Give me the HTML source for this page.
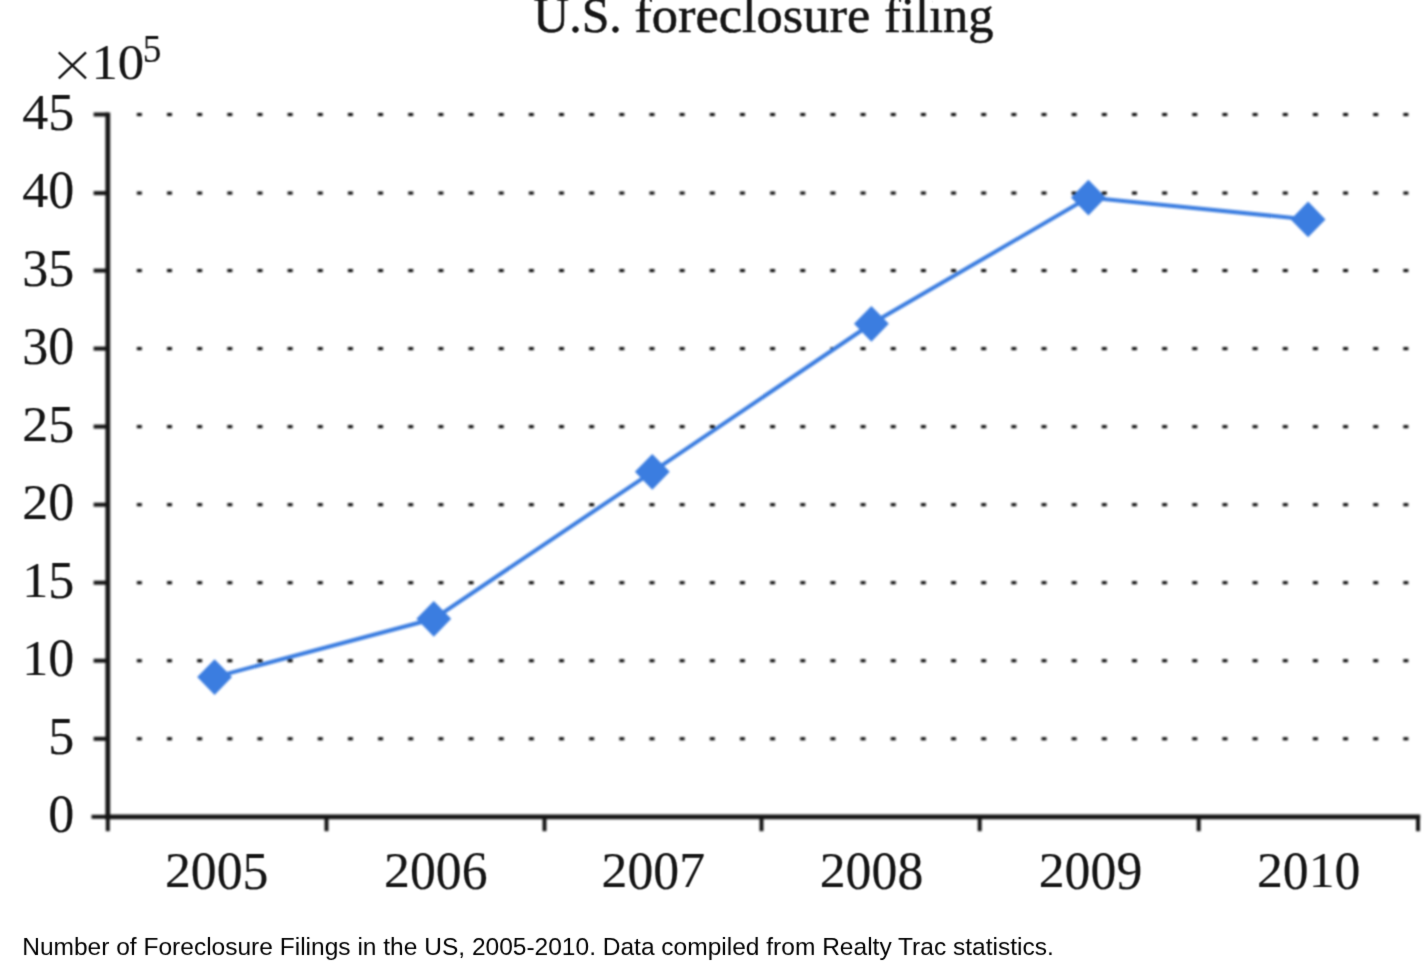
<!DOCTYPE html><html><head><meta charset="utf-8"><title>chart</title><style>
html,body{margin:0;padding:0;background:#fff;}body{width:1428px;height:966px;overflow:hidden;position:relative;font-family:"Liberation Serif",serif;}
svg{position:absolute;left:0;top:0;display:block}
.s{font-family:"Liberation Serif",serif;fill:#151515;stroke:#151515;stroke-width:0.15px}
.c{font-family:"Liberation Sans",sans-serif;fill:#000}
</style></head><body>
<svg width="1428" height="966" viewBox="0 0 1428 966">
<rect width="1428" height="966" fill="#fff"/>
<defs><filter id="t" filterUnits="userSpaceOnUse" x="0" y="0" width="1428" height="966" color-interpolation-filters="sRGB"><feConvolveMatrix order="3" kernelMatrix="0.04463 0.12200 0.04463 0.12200 0.33351 0.12200 0.04463 0.12200 0.04463" divisor="1" edgeMode="duplicate" preserveAlpha="false"/></filter></defs>
<defs><filter id="b" filterUnits="userSpaceOnUse" x="0" y="0" width="1428" height="966" color-interpolation-filters="sRGB"><feGaussianBlur stdDeviation="0.90"/></filter></defs><g filter="url(#b)">
<g fill="#000">
<rect x="136.85" y="737.27" width="5.0" height="3.0"/>
<rect x="167.00" y="737.27" width="5.0" height="3.0"/>
<rect x="197.16" y="737.27" width="5.0" height="3.0"/>
<rect x="227.31" y="737.27" width="5.0" height="3.0"/>
<rect x="257.47" y="737.27" width="5.0" height="3.0"/>
<rect x="287.62" y="737.27" width="5.0" height="3.0"/>
<rect x="317.78" y="737.27" width="5.0" height="3.0"/>
<rect x="347.94" y="737.27" width="5.0" height="3.0"/>
<rect x="378.09" y="737.27" width="5.0" height="3.0"/>
<rect x="408.25" y="737.27" width="5.0" height="3.0"/>
<rect x="438.40" y="737.27" width="5.0" height="3.0"/>
<rect x="468.56" y="737.27" width="5.0" height="3.0"/>
<rect x="498.71" y="737.27" width="5.0" height="3.0"/>
<rect x="528.87" y="737.27" width="5.0" height="3.0"/>
<rect x="559.02" y="737.27" width="5.0" height="3.0"/>
<rect x="589.18" y="737.27" width="5.0" height="3.0"/>
<rect x="619.33" y="737.27" width="5.0" height="3.0"/>
<rect x="649.49" y="737.27" width="5.0" height="3.0"/>
<rect x="679.64" y="737.27" width="5.0" height="3.0"/>
<rect x="709.80" y="737.27" width="5.0" height="3.0"/>
<rect x="739.95" y="737.27" width="5.0" height="3.0"/>
<rect x="770.11" y="737.27" width="5.0" height="3.0"/>
<rect x="800.26" y="737.27" width="5.0" height="3.0"/>
<rect x="830.42" y="737.27" width="5.0" height="3.0"/>
<rect x="860.57" y="737.27" width="5.0" height="3.0"/>
<rect x="890.73" y="737.27" width="5.0" height="3.0"/>
<rect x="920.88" y="737.27" width="5.0" height="3.0"/>
<rect x="951.04" y="737.27" width="5.0" height="3.0"/>
<rect x="981.19" y="737.27" width="5.0" height="3.0"/>
<rect x="1011.35" y="737.27" width="5.0" height="3.0"/>
<rect x="1041.50" y="737.27" width="5.0" height="3.0"/>
<rect x="1071.65" y="737.27" width="5.0" height="3.0"/>
<rect x="1101.81" y="737.27" width="5.0" height="3.0"/>
<rect x="1131.96" y="737.27" width="5.0" height="3.0"/>
<rect x="1162.12" y="737.27" width="5.0" height="3.0"/>
<rect x="1192.27" y="737.27" width="5.0" height="3.0"/>
<rect x="1222.43" y="737.27" width="5.0" height="3.0"/>
<rect x="1252.59" y="737.27" width="5.0" height="3.0"/>
<rect x="1282.74" y="737.27" width="5.0" height="3.0"/>
<rect x="1312.89" y="737.27" width="5.0" height="3.0"/>
<rect x="1343.05" y="737.27" width="5.0" height="3.0"/>
<rect x="1373.20" y="737.27" width="5.0" height="3.0"/>
<rect x="1403.36" y="737.27" width="5.0" height="3.0"/>
<rect x="136.85" y="659.24" width="5.0" height="3.0"/>
<rect x="167.00" y="659.24" width="5.0" height="3.0"/>
<rect x="197.16" y="659.24" width="5.0" height="3.0"/>
<rect x="227.31" y="659.24" width="5.0" height="3.0"/>
<rect x="257.47" y="659.24" width="5.0" height="3.0"/>
<rect x="287.62" y="659.24" width="5.0" height="3.0"/>
<rect x="317.78" y="659.24" width="5.0" height="3.0"/>
<rect x="347.94" y="659.24" width="5.0" height="3.0"/>
<rect x="378.09" y="659.24" width="5.0" height="3.0"/>
<rect x="408.25" y="659.24" width="5.0" height="3.0"/>
<rect x="438.40" y="659.24" width="5.0" height="3.0"/>
<rect x="468.56" y="659.24" width="5.0" height="3.0"/>
<rect x="498.71" y="659.24" width="5.0" height="3.0"/>
<rect x="528.87" y="659.24" width="5.0" height="3.0"/>
<rect x="559.02" y="659.24" width="5.0" height="3.0"/>
<rect x="589.18" y="659.24" width="5.0" height="3.0"/>
<rect x="619.33" y="659.24" width="5.0" height="3.0"/>
<rect x="649.49" y="659.24" width="5.0" height="3.0"/>
<rect x="679.64" y="659.24" width="5.0" height="3.0"/>
<rect x="709.80" y="659.24" width="5.0" height="3.0"/>
<rect x="739.95" y="659.24" width="5.0" height="3.0"/>
<rect x="770.11" y="659.24" width="5.0" height="3.0"/>
<rect x="800.26" y="659.24" width="5.0" height="3.0"/>
<rect x="830.42" y="659.24" width="5.0" height="3.0"/>
<rect x="860.57" y="659.24" width="5.0" height="3.0"/>
<rect x="890.73" y="659.24" width="5.0" height="3.0"/>
<rect x="920.88" y="659.24" width="5.0" height="3.0"/>
<rect x="951.04" y="659.24" width="5.0" height="3.0"/>
<rect x="981.19" y="659.24" width="5.0" height="3.0"/>
<rect x="1011.35" y="659.24" width="5.0" height="3.0"/>
<rect x="1041.50" y="659.24" width="5.0" height="3.0"/>
<rect x="1071.65" y="659.24" width="5.0" height="3.0"/>
<rect x="1101.81" y="659.24" width="5.0" height="3.0"/>
<rect x="1131.96" y="659.24" width="5.0" height="3.0"/>
<rect x="1162.12" y="659.24" width="5.0" height="3.0"/>
<rect x="1192.27" y="659.24" width="5.0" height="3.0"/>
<rect x="1222.43" y="659.24" width="5.0" height="3.0"/>
<rect x="1252.59" y="659.24" width="5.0" height="3.0"/>
<rect x="1282.74" y="659.24" width="5.0" height="3.0"/>
<rect x="1312.89" y="659.24" width="5.0" height="3.0"/>
<rect x="1343.05" y="659.24" width="5.0" height="3.0"/>
<rect x="1373.20" y="659.24" width="5.0" height="3.0"/>
<rect x="1403.36" y="659.24" width="5.0" height="3.0"/>
<rect x="136.85" y="581.21" width="5.0" height="3.0"/>
<rect x="167.00" y="581.21" width="5.0" height="3.0"/>
<rect x="197.16" y="581.21" width="5.0" height="3.0"/>
<rect x="227.31" y="581.21" width="5.0" height="3.0"/>
<rect x="257.47" y="581.21" width="5.0" height="3.0"/>
<rect x="287.62" y="581.21" width="5.0" height="3.0"/>
<rect x="317.78" y="581.21" width="5.0" height="3.0"/>
<rect x="347.94" y="581.21" width="5.0" height="3.0"/>
<rect x="378.09" y="581.21" width="5.0" height="3.0"/>
<rect x="408.25" y="581.21" width="5.0" height="3.0"/>
<rect x="438.40" y="581.21" width="5.0" height="3.0"/>
<rect x="468.56" y="581.21" width="5.0" height="3.0"/>
<rect x="498.71" y="581.21" width="5.0" height="3.0"/>
<rect x="528.87" y="581.21" width="5.0" height="3.0"/>
<rect x="559.02" y="581.21" width="5.0" height="3.0"/>
<rect x="589.18" y="581.21" width="5.0" height="3.0"/>
<rect x="619.33" y="581.21" width="5.0" height="3.0"/>
<rect x="649.49" y="581.21" width="5.0" height="3.0"/>
<rect x="679.64" y="581.21" width="5.0" height="3.0"/>
<rect x="709.80" y="581.21" width="5.0" height="3.0"/>
<rect x="739.95" y="581.21" width="5.0" height="3.0"/>
<rect x="770.11" y="581.21" width="5.0" height="3.0"/>
<rect x="800.26" y="581.21" width="5.0" height="3.0"/>
<rect x="830.42" y="581.21" width="5.0" height="3.0"/>
<rect x="860.57" y="581.21" width="5.0" height="3.0"/>
<rect x="890.73" y="581.21" width="5.0" height="3.0"/>
<rect x="920.88" y="581.21" width="5.0" height="3.0"/>
<rect x="951.04" y="581.21" width="5.0" height="3.0"/>
<rect x="981.19" y="581.21" width="5.0" height="3.0"/>
<rect x="1011.35" y="581.21" width="5.0" height="3.0"/>
<rect x="1041.50" y="581.21" width="5.0" height="3.0"/>
<rect x="1071.65" y="581.21" width="5.0" height="3.0"/>
<rect x="1101.81" y="581.21" width="5.0" height="3.0"/>
<rect x="1131.96" y="581.21" width="5.0" height="3.0"/>
<rect x="1162.12" y="581.21" width="5.0" height="3.0"/>
<rect x="1192.27" y="581.21" width="5.0" height="3.0"/>
<rect x="1222.43" y="581.21" width="5.0" height="3.0"/>
<rect x="1252.59" y="581.21" width="5.0" height="3.0"/>
<rect x="1282.74" y="581.21" width="5.0" height="3.0"/>
<rect x="1312.89" y="581.21" width="5.0" height="3.0"/>
<rect x="1343.05" y="581.21" width="5.0" height="3.0"/>
<rect x="1373.20" y="581.21" width="5.0" height="3.0"/>
<rect x="1403.36" y="581.21" width="5.0" height="3.0"/>
<rect x="136.85" y="503.18" width="5.0" height="3.0"/>
<rect x="167.00" y="503.18" width="5.0" height="3.0"/>
<rect x="197.16" y="503.18" width="5.0" height="3.0"/>
<rect x="227.31" y="503.18" width="5.0" height="3.0"/>
<rect x="257.47" y="503.18" width="5.0" height="3.0"/>
<rect x="287.62" y="503.18" width="5.0" height="3.0"/>
<rect x="317.78" y="503.18" width="5.0" height="3.0"/>
<rect x="347.94" y="503.18" width="5.0" height="3.0"/>
<rect x="378.09" y="503.18" width="5.0" height="3.0"/>
<rect x="408.25" y="503.18" width="5.0" height="3.0"/>
<rect x="438.40" y="503.18" width="5.0" height="3.0"/>
<rect x="468.56" y="503.18" width="5.0" height="3.0"/>
<rect x="498.71" y="503.18" width="5.0" height="3.0"/>
<rect x="528.87" y="503.18" width="5.0" height="3.0"/>
<rect x="559.02" y="503.18" width="5.0" height="3.0"/>
<rect x="589.18" y="503.18" width="5.0" height="3.0"/>
<rect x="619.33" y="503.18" width="5.0" height="3.0"/>
<rect x="649.49" y="503.18" width="5.0" height="3.0"/>
<rect x="679.64" y="503.18" width="5.0" height="3.0"/>
<rect x="709.80" y="503.18" width="5.0" height="3.0"/>
<rect x="739.95" y="503.18" width="5.0" height="3.0"/>
<rect x="770.11" y="503.18" width="5.0" height="3.0"/>
<rect x="800.26" y="503.18" width="5.0" height="3.0"/>
<rect x="830.42" y="503.18" width="5.0" height="3.0"/>
<rect x="860.57" y="503.18" width="5.0" height="3.0"/>
<rect x="890.73" y="503.18" width="5.0" height="3.0"/>
<rect x="920.88" y="503.18" width="5.0" height="3.0"/>
<rect x="951.04" y="503.18" width="5.0" height="3.0"/>
<rect x="981.19" y="503.18" width="5.0" height="3.0"/>
<rect x="1011.35" y="503.18" width="5.0" height="3.0"/>
<rect x="1041.50" y="503.18" width="5.0" height="3.0"/>
<rect x="1071.65" y="503.18" width="5.0" height="3.0"/>
<rect x="1101.81" y="503.18" width="5.0" height="3.0"/>
<rect x="1131.96" y="503.18" width="5.0" height="3.0"/>
<rect x="1162.12" y="503.18" width="5.0" height="3.0"/>
<rect x="1192.27" y="503.18" width="5.0" height="3.0"/>
<rect x="1222.43" y="503.18" width="5.0" height="3.0"/>
<rect x="1252.59" y="503.18" width="5.0" height="3.0"/>
<rect x="1282.74" y="503.18" width="5.0" height="3.0"/>
<rect x="1312.89" y="503.18" width="5.0" height="3.0"/>
<rect x="1343.05" y="503.18" width="5.0" height="3.0"/>
<rect x="1373.20" y="503.18" width="5.0" height="3.0"/>
<rect x="1403.36" y="503.18" width="5.0" height="3.0"/>
<rect x="136.85" y="425.15" width="5.0" height="3.0"/>
<rect x="167.00" y="425.15" width="5.0" height="3.0"/>
<rect x="197.16" y="425.15" width="5.0" height="3.0"/>
<rect x="227.31" y="425.15" width="5.0" height="3.0"/>
<rect x="257.47" y="425.15" width="5.0" height="3.0"/>
<rect x="287.62" y="425.15" width="5.0" height="3.0"/>
<rect x="317.78" y="425.15" width="5.0" height="3.0"/>
<rect x="347.94" y="425.15" width="5.0" height="3.0"/>
<rect x="378.09" y="425.15" width="5.0" height="3.0"/>
<rect x="408.25" y="425.15" width="5.0" height="3.0"/>
<rect x="438.40" y="425.15" width="5.0" height="3.0"/>
<rect x="468.56" y="425.15" width="5.0" height="3.0"/>
<rect x="498.71" y="425.15" width="5.0" height="3.0"/>
<rect x="528.87" y="425.15" width="5.0" height="3.0"/>
<rect x="559.02" y="425.15" width="5.0" height="3.0"/>
<rect x="589.18" y="425.15" width="5.0" height="3.0"/>
<rect x="619.33" y="425.15" width="5.0" height="3.0"/>
<rect x="649.49" y="425.15" width="5.0" height="3.0"/>
<rect x="679.64" y="425.15" width="5.0" height="3.0"/>
<rect x="709.80" y="425.15" width="5.0" height="3.0"/>
<rect x="739.95" y="425.15" width="5.0" height="3.0"/>
<rect x="770.11" y="425.15" width="5.0" height="3.0"/>
<rect x="800.26" y="425.15" width="5.0" height="3.0"/>
<rect x="830.42" y="425.15" width="5.0" height="3.0"/>
<rect x="860.57" y="425.15" width="5.0" height="3.0"/>
<rect x="890.73" y="425.15" width="5.0" height="3.0"/>
<rect x="920.88" y="425.15" width="5.0" height="3.0"/>
<rect x="951.04" y="425.15" width="5.0" height="3.0"/>
<rect x="981.19" y="425.15" width="5.0" height="3.0"/>
<rect x="1011.35" y="425.15" width="5.0" height="3.0"/>
<rect x="1041.50" y="425.15" width="5.0" height="3.0"/>
<rect x="1071.65" y="425.15" width="5.0" height="3.0"/>
<rect x="1101.81" y="425.15" width="5.0" height="3.0"/>
<rect x="1131.96" y="425.15" width="5.0" height="3.0"/>
<rect x="1162.12" y="425.15" width="5.0" height="3.0"/>
<rect x="1192.27" y="425.15" width="5.0" height="3.0"/>
<rect x="1222.43" y="425.15" width="5.0" height="3.0"/>
<rect x="1252.59" y="425.15" width="5.0" height="3.0"/>
<rect x="1282.74" y="425.15" width="5.0" height="3.0"/>
<rect x="1312.89" y="425.15" width="5.0" height="3.0"/>
<rect x="1343.05" y="425.15" width="5.0" height="3.0"/>
<rect x="1373.20" y="425.15" width="5.0" height="3.0"/>
<rect x="1403.36" y="425.15" width="5.0" height="3.0"/>
<rect x="136.85" y="347.12" width="5.0" height="3.0"/>
<rect x="167.00" y="347.12" width="5.0" height="3.0"/>
<rect x="197.16" y="347.12" width="5.0" height="3.0"/>
<rect x="227.31" y="347.12" width="5.0" height="3.0"/>
<rect x="257.47" y="347.12" width="5.0" height="3.0"/>
<rect x="287.62" y="347.12" width="5.0" height="3.0"/>
<rect x="317.78" y="347.12" width="5.0" height="3.0"/>
<rect x="347.94" y="347.12" width="5.0" height="3.0"/>
<rect x="378.09" y="347.12" width="5.0" height="3.0"/>
<rect x="408.25" y="347.12" width="5.0" height="3.0"/>
<rect x="438.40" y="347.12" width="5.0" height="3.0"/>
<rect x="468.56" y="347.12" width="5.0" height="3.0"/>
<rect x="498.71" y="347.12" width="5.0" height="3.0"/>
<rect x="528.87" y="347.12" width="5.0" height="3.0"/>
<rect x="559.02" y="347.12" width="5.0" height="3.0"/>
<rect x="589.18" y="347.12" width="5.0" height="3.0"/>
<rect x="619.33" y="347.12" width="5.0" height="3.0"/>
<rect x="649.49" y="347.12" width="5.0" height="3.0"/>
<rect x="679.64" y="347.12" width="5.0" height="3.0"/>
<rect x="709.80" y="347.12" width="5.0" height="3.0"/>
<rect x="739.95" y="347.12" width="5.0" height="3.0"/>
<rect x="770.11" y="347.12" width="5.0" height="3.0"/>
<rect x="800.26" y="347.12" width="5.0" height="3.0"/>
<rect x="830.42" y="347.12" width="5.0" height="3.0"/>
<rect x="860.57" y="347.12" width="5.0" height="3.0"/>
<rect x="890.73" y="347.12" width="5.0" height="3.0"/>
<rect x="920.88" y="347.12" width="5.0" height="3.0"/>
<rect x="951.04" y="347.12" width="5.0" height="3.0"/>
<rect x="981.19" y="347.12" width="5.0" height="3.0"/>
<rect x="1011.35" y="347.12" width="5.0" height="3.0"/>
<rect x="1041.50" y="347.12" width="5.0" height="3.0"/>
<rect x="1071.65" y="347.12" width="5.0" height="3.0"/>
<rect x="1101.81" y="347.12" width="5.0" height="3.0"/>
<rect x="1131.96" y="347.12" width="5.0" height="3.0"/>
<rect x="1162.12" y="347.12" width="5.0" height="3.0"/>
<rect x="1192.27" y="347.12" width="5.0" height="3.0"/>
<rect x="1222.43" y="347.12" width="5.0" height="3.0"/>
<rect x="1252.59" y="347.12" width="5.0" height="3.0"/>
<rect x="1282.74" y="347.12" width="5.0" height="3.0"/>
<rect x="1312.89" y="347.12" width="5.0" height="3.0"/>
<rect x="1343.05" y="347.12" width="5.0" height="3.0"/>
<rect x="1373.20" y="347.12" width="5.0" height="3.0"/>
<rect x="1403.36" y="347.12" width="5.0" height="3.0"/>
<rect x="136.85" y="269.09" width="5.0" height="3.0"/>
<rect x="167.00" y="269.09" width="5.0" height="3.0"/>
<rect x="197.16" y="269.09" width="5.0" height="3.0"/>
<rect x="227.31" y="269.09" width="5.0" height="3.0"/>
<rect x="257.47" y="269.09" width="5.0" height="3.0"/>
<rect x="287.62" y="269.09" width="5.0" height="3.0"/>
<rect x="317.78" y="269.09" width="5.0" height="3.0"/>
<rect x="347.94" y="269.09" width="5.0" height="3.0"/>
<rect x="378.09" y="269.09" width="5.0" height="3.0"/>
<rect x="408.25" y="269.09" width="5.0" height="3.0"/>
<rect x="438.40" y="269.09" width="5.0" height="3.0"/>
<rect x="468.56" y="269.09" width="5.0" height="3.0"/>
<rect x="498.71" y="269.09" width="5.0" height="3.0"/>
<rect x="528.87" y="269.09" width="5.0" height="3.0"/>
<rect x="559.02" y="269.09" width="5.0" height="3.0"/>
<rect x="589.18" y="269.09" width="5.0" height="3.0"/>
<rect x="619.33" y="269.09" width="5.0" height="3.0"/>
<rect x="649.49" y="269.09" width="5.0" height="3.0"/>
<rect x="679.64" y="269.09" width="5.0" height="3.0"/>
<rect x="709.80" y="269.09" width="5.0" height="3.0"/>
<rect x="739.95" y="269.09" width="5.0" height="3.0"/>
<rect x="770.11" y="269.09" width="5.0" height="3.0"/>
<rect x="800.26" y="269.09" width="5.0" height="3.0"/>
<rect x="830.42" y="269.09" width="5.0" height="3.0"/>
<rect x="860.57" y="269.09" width="5.0" height="3.0"/>
<rect x="890.73" y="269.09" width="5.0" height="3.0"/>
<rect x="920.88" y="269.09" width="5.0" height="3.0"/>
<rect x="951.04" y="269.09" width="5.0" height="3.0"/>
<rect x="981.19" y="269.09" width="5.0" height="3.0"/>
<rect x="1011.35" y="269.09" width="5.0" height="3.0"/>
<rect x="1041.50" y="269.09" width="5.0" height="3.0"/>
<rect x="1071.65" y="269.09" width="5.0" height="3.0"/>
<rect x="1101.81" y="269.09" width="5.0" height="3.0"/>
<rect x="1131.96" y="269.09" width="5.0" height="3.0"/>
<rect x="1162.12" y="269.09" width="5.0" height="3.0"/>
<rect x="1192.27" y="269.09" width="5.0" height="3.0"/>
<rect x="1222.43" y="269.09" width="5.0" height="3.0"/>
<rect x="1252.59" y="269.09" width="5.0" height="3.0"/>
<rect x="1282.74" y="269.09" width="5.0" height="3.0"/>
<rect x="1312.89" y="269.09" width="5.0" height="3.0"/>
<rect x="1343.05" y="269.09" width="5.0" height="3.0"/>
<rect x="1373.20" y="269.09" width="5.0" height="3.0"/>
<rect x="1403.36" y="269.09" width="5.0" height="3.0"/>
<rect x="136.85" y="191.56" width="5.0" height="3.0"/>
<rect x="167.00" y="191.56" width="5.0" height="3.0"/>
<rect x="197.16" y="191.56" width="5.0" height="3.0"/>
<rect x="227.31" y="191.56" width="5.0" height="3.0"/>
<rect x="257.47" y="191.56" width="5.0" height="3.0"/>
<rect x="287.62" y="191.56" width="5.0" height="3.0"/>
<rect x="317.78" y="191.56" width="5.0" height="3.0"/>
<rect x="347.94" y="191.56" width="5.0" height="3.0"/>
<rect x="378.09" y="191.56" width="5.0" height="3.0"/>
<rect x="408.25" y="191.56" width="5.0" height="3.0"/>
<rect x="438.40" y="191.56" width="5.0" height="3.0"/>
<rect x="468.56" y="191.56" width="5.0" height="3.0"/>
<rect x="498.71" y="191.56" width="5.0" height="3.0"/>
<rect x="528.87" y="191.56" width="5.0" height="3.0"/>
<rect x="559.02" y="191.56" width="5.0" height="3.0"/>
<rect x="589.18" y="191.56" width="5.0" height="3.0"/>
<rect x="619.33" y="191.56" width="5.0" height="3.0"/>
<rect x="649.49" y="191.56" width="5.0" height="3.0"/>
<rect x="679.64" y="191.56" width="5.0" height="3.0"/>
<rect x="709.80" y="191.56" width="5.0" height="3.0"/>
<rect x="739.95" y="191.56" width="5.0" height="3.0"/>
<rect x="770.11" y="191.56" width="5.0" height="3.0"/>
<rect x="800.26" y="191.56" width="5.0" height="3.0"/>
<rect x="830.42" y="191.56" width="5.0" height="3.0"/>
<rect x="860.57" y="191.56" width="5.0" height="3.0"/>
<rect x="890.73" y="191.56" width="5.0" height="3.0"/>
<rect x="920.88" y="191.56" width="5.0" height="3.0"/>
<rect x="951.04" y="191.56" width="5.0" height="3.0"/>
<rect x="981.19" y="191.56" width="5.0" height="3.0"/>
<rect x="1011.35" y="191.56" width="5.0" height="3.0"/>
<rect x="1041.50" y="191.56" width="5.0" height="3.0"/>
<rect x="1071.65" y="191.56" width="5.0" height="3.0"/>
<rect x="1101.81" y="191.56" width="5.0" height="3.0"/>
<rect x="1131.96" y="191.56" width="5.0" height="3.0"/>
<rect x="1162.12" y="191.56" width="5.0" height="3.0"/>
<rect x="1192.27" y="191.56" width="5.0" height="3.0"/>
<rect x="1222.43" y="191.56" width="5.0" height="3.0"/>
<rect x="1252.59" y="191.56" width="5.0" height="3.0"/>
<rect x="1282.74" y="191.56" width="5.0" height="3.0"/>
<rect x="1312.89" y="191.56" width="5.0" height="3.0"/>
<rect x="1343.05" y="191.56" width="5.0" height="3.0"/>
<rect x="1373.20" y="191.56" width="5.0" height="3.0"/>
<rect x="1403.36" y="191.56" width="5.0" height="3.0"/>
<rect x="136.85" y="113.03" width="5.0" height="3.0"/>
<rect x="167.00" y="113.03" width="5.0" height="3.0"/>
<rect x="197.16" y="113.03" width="5.0" height="3.0"/>
<rect x="227.31" y="113.03" width="5.0" height="3.0"/>
<rect x="257.47" y="113.03" width="5.0" height="3.0"/>
<rect x="287.62" y="113.03" width="5.0" height="3.0"/>
<rect x="317.78" y="113.03" width="5.0" height="3.0"/>
<rect x="347.94" y="113.03" width="5.0" height="3.0"/>
<rect x="378.09" y="113.03" width="5.0" height="3.0"/>
<rect x="408.25" y="113.03" width="5.0" height="3.0"/>
<rect x="438.40" y="113.03" width="5.0" height="3.0"/>
<rect x="468.56" y="113.03" width="5.0" height="3.0"/>
<rect x="498.71" y="113.03" width="5.0" height="3.0"/>
<rect x="528.87" y="113.03" width="5.0" height="3.0"/>
<rect x="559.02" y="113.03" width="5.0" height="3.0"/>
<rect x="589.18" y="113.03" width="5.0" height="3.0"/>
<rect x="619.33" y="113.03" width="5.0" height="3.0"/>
<rect x="649.49" y="113.03" width="5.0" height="3.0"/>
<rect x="679.64" y="113.03" width="5.0" height="3.0"/>
<rect x="709.80" y="113.03" width="5.0" height="3.0"/>
<rect x="739.95" y="113.03" width="5.0" height="3.0"/>
<rect x="770.11" y="113.03" width="5.0" height="3.0"/>
<rect x="800.26" y="113.03" width="5.0" height="3.0"/>
<rect x="830.42" y="113.03" width="5.0" height="3.0"/>
<rect x="860.57" y="113.03" width="5.0" height="3.0"/>
<rect x="890.73" y="113.03" width="5.0" height="3.0"/>
<rect x="920.88" y="113.03" width="5.0" height="3.0"/>
<rect x="951.04" y="113.03" width="5.0" height="3.0"/>
<rect x="981.19" y="113.03" width="5.0" height="3.0"/>
<rect x="1011.35" y="113.03" width="5.0" height="3.0"/>
<rect x="1041.50" y="113.03" width="5.0" height="3.0"/>
<rect x="1071.65" y="113.03" width="5.0" height="3.0"/>
<rect x="1101.81" y="113.03" width="5.0" height="3.0"/>
<rect x="1131.96" y="113.03" width="5.0" height="3.0"/>
<rect x="1162.12" y="113.03" width="5.0" height="3.0"/>
<rect x="1192.27" y="113.03" width="5.0" height="3.0"/>
<rect x="1222.43" y="113.03" width="5.0" height="3.0"/>
<rect x="1252.59" y="113.03" width="5.0" height="3.0"/>
<rect x="1282.74" y="113.03" width="5.0" height="3.0"/>
<rect x="1312.89" y="113.03" width="5.0" height="3.0"/>
<rect x="1343.05" y="113.03" width="5.0" height="3.0"/>
<rect x="1373.20" y="113.03" width="5.0" height="3.0"/>
<rect x="1403.36" y="113.03" width="5.0" height="3.0"/>
</g>
<g stroke="#151515" stroke-width="4.8" fill="none">
<path d="M107.8 112.5 V819.2"/>
<path d="M105.4 816.8 H1420.2"/>
</g><g stroke="#151515" stroke-width="4.0" fill="none">
<path d="M91.5 816.8 H107.8"/>
<path d="M107.8 816.8 V831.2"/>
<path d="M93.6 738.8 H107.8"/>
<path d="M93.6 660.7 H107.8"/>
<path d="M93.6 582.7 H107.8"/>
<path d="M93.6 504.7 H107.8"/>
<path d="M93.6 426.6 H107.8"/>
<path d="M93.6 348.6 H107.8"/>
<path d="M93.6 270.6 H107.8"/>
<path d="M93.6 193.1 H107.8"/>
<path d="M93.6 114.5 H107.8"/>
<path d="M326.5 816.8 V831.2"/>
<path d="M544.5 816.8 V831.2"/>
<path d="M761.5 816.8 V831.2"/>
<path d="M979.7 816.8 V831.2"/>
<path d="M1198.7 816.8 V831.2"/>
<path d="M1418.0 816.8 V831.2"/>
</g>
<polyline fill="none" stroke="#3b7de0" stroke-width="4.0" points="214.6,677.1 433.8,618.8 652.3,471.8 871.4,323.8 1088.4,197.6 1308.1,219.4"/>
<path fill="#3b7de0" d="M214.6 659.2 l17.4 17.9 l-17.4 17.9 l-17.4 -17.9z"/>
<path fill="#3b7de0" d="M433.8 600.9 l17.4 17.9 l-17.4 17.9 l-17.4 -17.9z"/>
<path fill="#3b7de0" d="M652.3 453.9 l17.4 17.9 l-17.4 17.9 l-17.4 -17.9z"/>
<path fill="#3b7de0" d="M871.4 305.9 l17.4 17.9 l-17.4 17.9 l-17.4 -17.9z"/>
<path fill="#3b7de0" d="M1088.4 179.7 l17.4 17.9 l-17.4 17.9 l-17.4 -17.9z"/>
<path fill="#3b7de0" d="M1308.1 201.5 l17.4 17.9 l-17.4 17.9 l-17.4 -17.9z"/>
</g><g filter="url(#t)">
<text class="s" font-size="51.0" transform="translate(48.29 832.20) scale(1.020 1.070)">0</text>
<text class="s" font-size="51.0" transform="translate(48.29 754.07) scale(1.020 1.035)">5</text>
<text class="s" font-size="51.0" transform="translate(22.28 674.74) scale(1.020 1.000)">1</text><text class="s" font-size="51.0" transform="translate(48.29 676.14) scale(1.020 1.070)">0</text>
<text class="s" font-size="51.0" transform="translate(22.28 596.71) scale(1.020 1.000)">1</text><text class="s" font-size="51.0" transform="translate(48.29 598.01) scale(1.020 1.035)">5</text>
<text class="s" font-size="51.0" transform="translate(22.28 518.68) scale(1.020 1.000)">2</text><text class="s" font-size="51.0" transform="translate(48.29 520.08) scale(1.020 1.070)">0</text>
<text class="s" font-size="51.0" transform="translate(22.28 440.65) scale(1.020 1.000)">2</text><text class="s" font-size="51.0" transform="translate(48.29 441.95) scale(1.020 1.035)">5</text>
<text class="s" font-size="51.0" transform="translate(22.28 363.92) scale(1.020 1.035)">3</text><text class="s" font-size="51.0" transform="translate(48.29 364.02) scale(1.020 1.070)">0</text>
<text class="s" font-size="51.0" transform="translate(22.28 285.89) scale(1.020 1.035)">3</text><text class="s" font-size="51.0" transform="translate(48.29 285.89) scale(1.020 1.035)">5</text>
<text class="s" font-size="51.0" transform="translate(22.28 207.06) scale(1.020 1.000)">4</text><text class="s" font-size="51.0" transform="translate(48.29 208.46) scale(1.020 1.070)">0</text>
<text class="s" font-size="51.0" transform="translate(22.28 128.53) scale(1.020 1.000)">4</text><text class="s" font-size="51.0" transform="translate(48.29 129.83) scale(1.020 1.035)">5</text>
<text class="s" font-size="51.5" transform="translate(164.89 887.40) scale(1.005 1.000)">2</text><text class="s" font-size="51.5" transform="translate(190.77 888.80) scale(1.005 1.070)">0</text><text class="s" font-size="51.5" transform="translate(216.65 888.80) scale(1.005 1.070)">0</text><text class="s" font-size="51.5" transform="translate(242.53 888.70) scale(1.005 1.035)">5</text>
<text class="s" font-size="51.5" transform="translate(384.04 887.40) scale(1.005 1.000)">2</text><text class="s" font-size="51.5" transform="translate(409.92 888.80) scale(1.005 1.070)">0</text><text class="s" font-size="51.5" transform="translate(435.80 888.80) scale(1.005 1.070)">0</text><text class="s" font-size="51.5" transform="translate(461.68 888.80) scale(1.005 1.070)">6</text>
<text class="s" font-size="51.5" transform="translate(601.54 887.40) scale(1.005 1.000)">2</text><text class="s" font-size="51.5" transform="translate(627.42 888.80) scale(1.005 1.070)">0</text><text class="s" font-size="51.5" transform="translate(653.30 888.80) scale(1.005 1.070)">0</text><text class="s" font-size="51.5" transform="translate(679.18 887.40) scale(1.005 1.000)">7</text>
<text class="s" font-size="51.5" transform="translate(819.74 887.40) scale(1.005 1.000)">2</text><text class="s" font-size="51.5" transform="translate(845.62 888.80) scale(1.005 1.070)">0</text><text class="s" font-size="51.5" transform="translate(871.50 888.80) scale(1.005 1.070)">0</text><text class="s" font-size="51.5" transform="translate(897.38 888.80) scale(1.005 1.070)">8</text>
<text class="s" font-size="51.5" transform="translate(1038.74 887.40) scale(1.005 1.000)">2</text><text class="s" font-size="51.5" transform="translate(1064.62 888.80) scale(1.005 1.070)">0</text><text class="s" font-size="51.5" transform="translate(1090.50 888.80) scale(1.005 1.070)">0</text><text class="s" font-size="51.5" transform="translate(1116.38 888.80) scale(1.005 1.070)">9</text>
<text class="s" font-size="51.5" transform="translate(1256.89 887.40) scale(1.005 1.000)">2</text><text class="s" font-size="51.5" transform="translate(1282.77 888.80) scale(1.005 1.070)">0</text><text class="s" font-size="51.5" transform="translate(1308.65 887.40) scale(1.005 1.000)">1</text><text class="s" font-size="51.5" transform="translate(1334.53 888.80) scale(1.005 1.070)">0</text>
<text class="s" font-size="51.5" transform="translate(533.3 32.3) scale(0.966 1)" style="stroke-width:0.5px">U.S.</text>
<text class="s" font-size="51.5" transform="translate(634.2 32.3) scale(1.0196 1)" style="stroke-width:0.5px">foreclosure</text>
<text class="s" font-size="51.5" transform="translate(884.1 32.3) scale(0.9807 1)" style="stroke-width:0.5px">filing</text>
<rect x="932.6" y="-2" width="6.6" height="7" fill="#fff"/>
<path d="M58.8 52.4 L86 78.4 M86 52.4 L58.8 78.4" stroke="#151515" stroke-width="2.4" fill="none"/>
<text class="s" font-size="51" transform="translate(91.4 79.2) scale(1.036 1)">10</text>
<text class="s" font-size="40.5" transform="translate(142.8 62.3) scale(0.92 1)">5</text>
</g>
<defs><filter id="c" filterUnits="userSpaceOnUse" x="0" y="900" width="1428" height="66" color-interpolation-filters="sRGB"><feConvolveMatrix order="3" kernelMatrix="0.00640 0.06720 0.00640 0.06720 0.70560 0.06720 0.00640 0.06720 0.00640" divisor="1" edgeMode="duplicate" preserveAlpha="false"/></filter></defs>
<g filter="url(#c)"><text class="c" font-size="24.6" x="22.2" y="954.8" textLength="1031.6" lengthAdjust="spacingAndGlyphs">Number of Foreclosure Filings in the US, 2005-2010. Data compiled from Realty Trac statistics.</text></g>
</svg></body></html>
